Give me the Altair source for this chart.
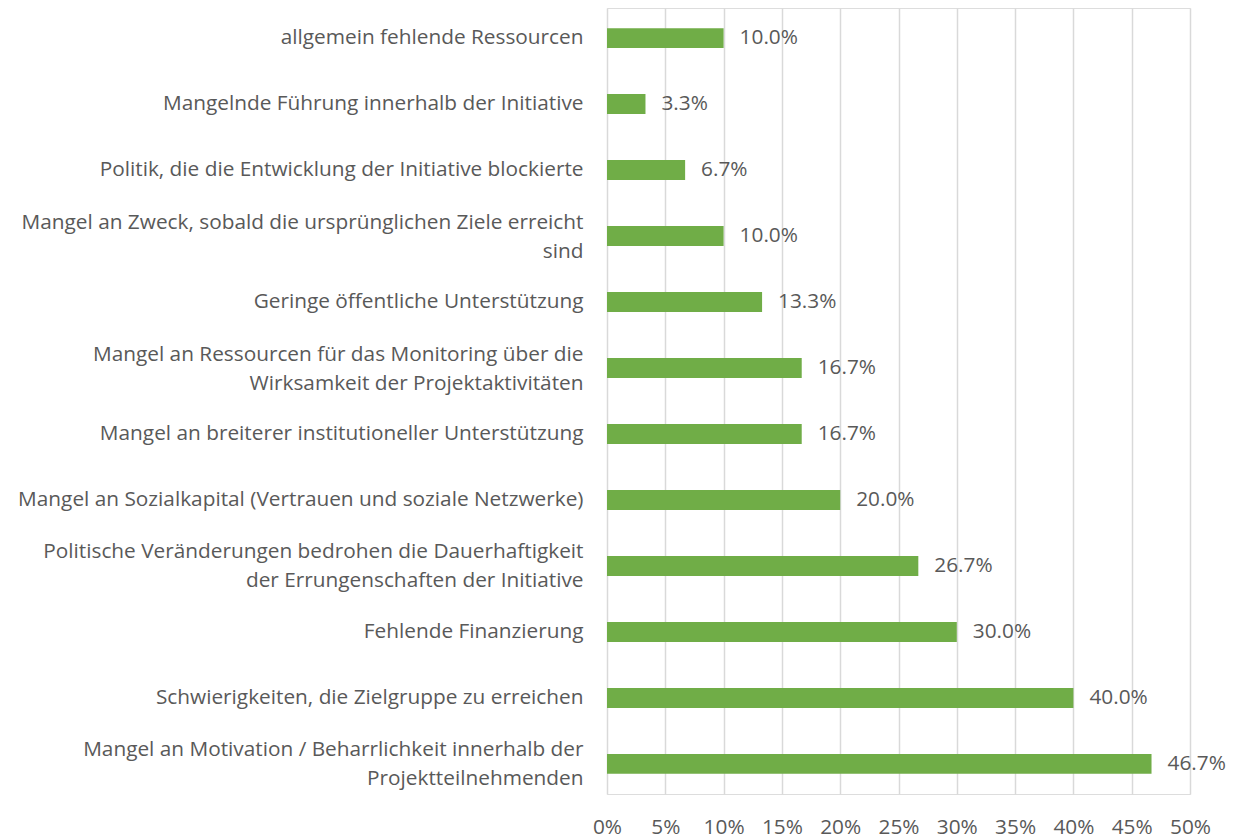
import altair as alt
import pandas as pd

categories = [
    "allgemein fehlende Ressourcen",
    "Mangelnde Führung innerhalb der Initiative",
    "Politik, die die Entwicklung der Initiative blockierte",
    "Mangel an Zweck, sobald die ursprünglichen Ziele erreicht|sind",
    "Geringe öffentliche Unterstützung",
    "Mangel an Ressourcen für das Monitoring über die|Wirksamkeit der Projektaktivitäten",
    "Mangel an breiterer institutioneller Unterstützung",
    "Mangel an Sozialkapital (Vertrauen und soziale Netzwerke)",
    "Politische Veränderungen bedrohen die Dauerhaftigkeit|der Errungenschaften der Initiative",
    "Fehlende Finanzierung",
    "Schwierigkeiten, die Zielgruppe zu erreichen",
    "Mangel an Motivation / Beharrlichkeit innerhalb der|Projektteilnehmenden",
]
values = [0.100, 0.033, 0.067, 0.100, 0.133, 0.167, 0.167, 0.200, 0.267, 0.300, 0.400, 0.467]
tick_values = [0, 0.05, 0.10, 0.15, 0.20, 0.25, 0.30, 0.35, 0.40, 0.45, 0.50]

df = pd.DataFrame({"cat": categories, "val": values})

FONT = "Open Sans"
TXT = "#595959"
FS = 20.8

y_enc = alt.Y(
    "cat:N",
    sort=categories,
    title=None,
    scale=alt.Scale(paddingInner=0.7, paddingOuter=0.305),
    axis=alt.Axis(
        labelExpr="split(datum.value, '|')",
        labelFont=FONT,
        labelFontSize=FS,
        labelColor=TXT,
        labelLineHeight=29,
        labelPadding=24,
        labelLimit=700,
        labelOffset={"condition": {"test": "indexof(datum.value, '|') >= 0", "value": -13.5}, "value": 0},
        ticks=False,
        domain=False,
        grid=False,
    ),
)

x_enc = alt.X(
    "val:Q",
    title=None,
    scale=alt.Scale(domain=[0, 0.5], nice=False),
    axis=alt.Axis(
        values=tick_values,
        format=".0%",
        labelFont=FONT,
        labelFontSize=FS,
        labelColor=TXT,
        labelPadding=23,
        labelFlush=False,
        ticks=False,
        domain=False,
        grid=True,
        gridColor="#d9d9d9",
        gridWidth=1.5,
    ),
)

bars = alt.Chart(df).mark_bar(color="#70AD47").encode(x=x_enc, y=y_enc)

labels = alt.Chart(df).mark_text(
    align="left", baseline="middle", dx=16, font=FONT, fontSize=FS, color=TXT
).encode(
    x="val:Q",
    y=alt.Y("cat:N", sort=categories),
    text=alt.Text("val:Q", format=".1%"),
)

chart = (
    alt.layer(bars, labels)
    .properties(
        width=583,
        height=786,
        autosize=alt.AutoSizeParams(type="none"),
        padding={"left": 599, "top": 0, "right": 38, "bottom": 46},
    )
    .configure_view(stroke=None)
    .configure(background="white")
)

chart.save("out.html", embed_options={"renderer": "svg", "actions": False})
